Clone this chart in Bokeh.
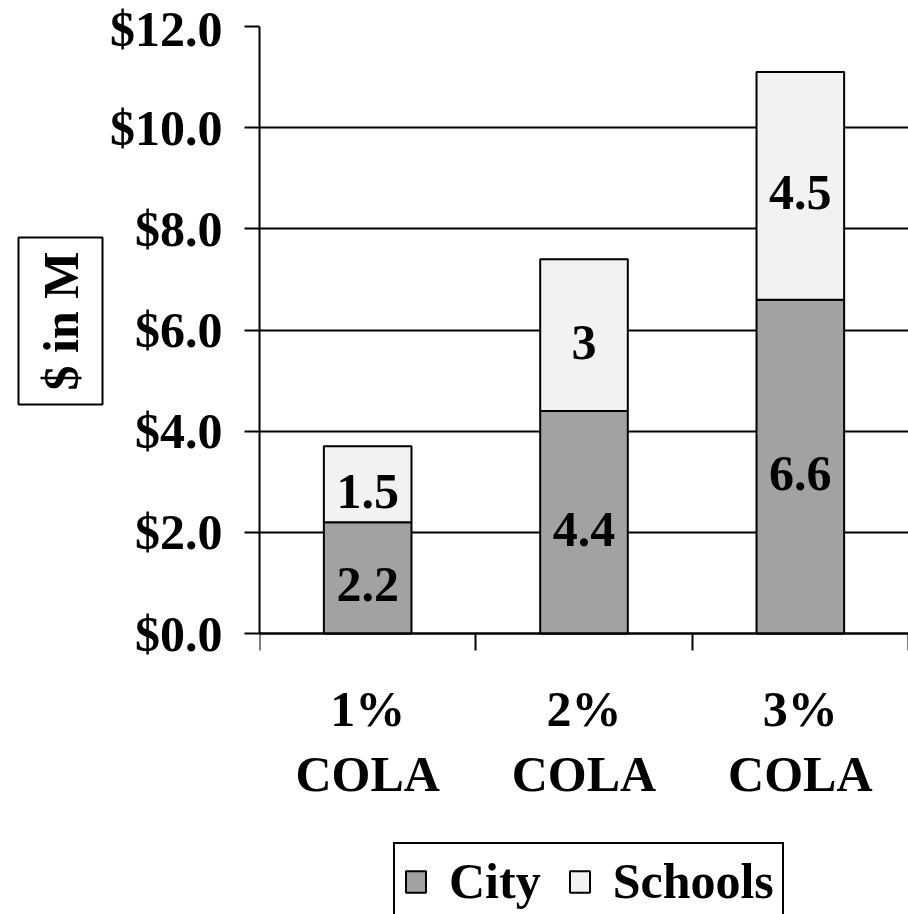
from bokeh.plotting import figure
from bokeh.models import (ColumnDataSource, Range1d, LinearAxis, FixedTicker,
                          NumeralTickFormatter, Legend, LegendItem, Title)
from bokeh.core.properties import value
from bokeh.embed import file_html
from bokeh.resources import INLINE

# Cost of a cost-of-living adjustment, in millions of dollars
categories = ["1% COLA", "2% COLA", "3% COLA"]
city = [2.2, 4.4, 6.6]
schools = [1.5, 3.0, 4.5]
y_ticks = [0, 2, 4, 6, 8, 10, 12]
series = ["City", "Schools"]

FONT = "Liberation Serif"
BIG = "50px"
CITY_FILL = "#a2a2a2"
SCHOOL_FILL = "#f2f2f2"
BAR_STYLE = dict(line_color="black", line_width=2)

# page geometry (pixels): top of the value scale, the zero line, page height
W, H = 908, 914
TOP_PX, ZERO_PX = 26, 633
Y_MAX = 12
# the frame runs down to the page bottom so the legend can sit inside it
y_min = -Y_MAX * (H - ZERO_PX) / (ZERO_PX - TOP_PX)

# each category occupies two x units: boundaries at even values, centres at odd values
n = len(categories)
centres = [2 * i + 1 for i in range(n)]
edges = [2 * i for i in range(n + 1)]

src = ColumnDataSource(dict(
    x=centres,
    city=city,
    schools=schools,
    total=[c + s for c, s in zip(city, schools)],
    city_mid=[c / 2 for c in city],
    school_mid=[c + s / 2 for c, s in zip(city, schools)],
    city_txt=[f"{c:g}" for c in city],
    school_txt=[f"{s:g}" for s in schools],
))

p = figure(width=W, height=H, x_range=Range1d(0, 2 * n), y_range=Range1d(y_min, Y_MAX),
           output_backend="svg", toolbar_location=None, x_axis_location=None,
           min_border_left=259, min_border_right=0, min_border_top=TOP_PX, min_border_bottom=0)
p.outline_line_color = None
p.background_fill_color = "white"
p.border_fill_color = "white"

# y axis, only over the value scale
yax = p.yaxis[0]
yax.bounds = (0, Y_MAX)
yax.ticker = FixedTicker(ticks=y_ticks)
yax.formatter = NumeralTickFormatter(format="$0.0")
yax.major_label_text_font = FONT
yax.major_label_text_font_style = "bold"
yax.major_label_text_font_size = BIG
yax.major_label_text_color = "black"
yax.major_label_standoff = 22
yax.major_tick_out = 15
yax.major_tick_in = 0
yax.minor_tick_line_color = None
yax.axis_line_width = 2
yax.major_tick_line_width = 2
yax.axis_line_color = "black"

# boxed y-axis title, raised from the bottom of the left panel
p.add_layout(Title(text="$ in M", align="left", offset=510, text_font=FONT,
                   text_font_style="bold", text_font_size=BIG, text_color="black",
                   border_line_color="black", border_line_width=2,
                   background_fill_color="white", padding=14, standoff=8), "left")

p.ygrid.ticker = FixedTicker(ticks=y_ticks)
p.ygrid.grid_line_color = "black"
p.ygrid.grid_line_width = 2
p.xgrid.grid_line_color = None

# tick marks at category boundaries, hanging below the zero line
edge_ax = LinearAxis(fixed_location=0, ticker=FixedTicker(ticks=edges),
                     major_tick_out=17, major_tick_in=0, minor_tick_line_color=None,
                     major_tick_line_width=2, axis_line_width=2,
                     major_label_overrides={e: "" for e in edges})
p.add_layout(edge_ax, "below")

# category labels under each bar
cat_ax = LinearAxis(fixed_location=0, ticker=FixedTicker(ticks=centres),
                    major_tick_line_color=None, minor_tick_line_color=None, axis_line_color=None,
                    major_label_overrides={x: c.replace(" ", "\n") for x, c in zip(centres, categories)},
                    major_label_text_font=FONT, major_label_text_font_style="bold",
                    major_label_text_font_size=BIG, major_label_text_color="black",
                    major_label_text_line_height=1.17, major_label_standoff=41)
p.add_layout(cat_ax, "below")

# stacked bars
r_city = p.vbar(x="x", bottom=0, top="city", width=0.81, source=src,
                fill_color=CITY_FILL, **BAR_STYLE)
r_sch = p.vbar(x="x", bottom="city", top="total", width=0.81, source=src,
               fill_color=SCHOOL_FILL, **BAR_STYLE)

# values inside the segments
for ycol, tcol in (("city_mid", "city_txt"), ("school_mid", "school_txt")):
    p.text(x="x", y=ycol, text=tcol, source=src, text_align="center", text_baseline="middle",
           y_offset=7, text_font=value(FONT), text_font_style="bold", text_font_size=BIG,
           text_color="black")

# legend near the bottom of the page, running off its lower edge
legend = Legend(items=[LegendItem(label=s, renderers=[r]) for s, r in zip(series, (r_city, r_sch))],
                orientation="horizontal", location=(134, -6),
                label_text_font=FONT, label_text_font_style="bold", label_text_font_size=BIG,
                label_text_color="black", glyph_width=25, glyph_height=27, label_standoff=21,
                spacing=26, padding=8, margin=0, border_line_color="black",
                border_line_alpha=1, border_line_width=2, background_fill_color="white",
                background_fill_alpha=1)
p.add_layout(legend)

open("out.html", "w").write(file_html(p, INLINE))
